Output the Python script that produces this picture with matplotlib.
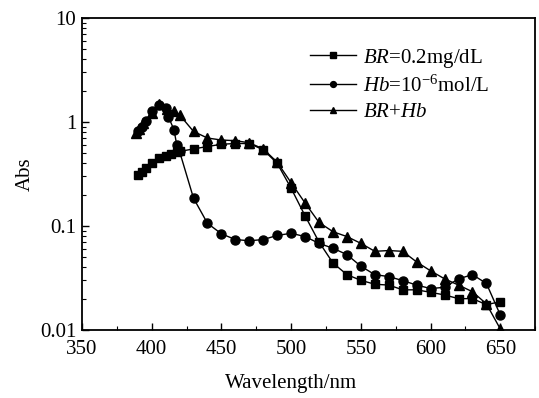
import matplotlib
matplotlib.use('Agg')
from matplotlib import pyplot as plt
from matplotlib.ticker import MultipleLocator, FixedLocator, FixedFormatter

plt.rcParams['font.family'] = 'Liberation Serif'
plt.rcParams['mathtext.fontset'] = 'custom'
plt.rcParams['mathtext.rm'] = 'Liberation Serif'
plt.rcParams['mathtext.it'] = 'Liberation Serif:italic'

# BR = 0.2 mg/dL (squares)
br_x = [390, 393, 396, 400, 405, 410, 414, 418, 420, 430, 440, 450, 460, 470,
        480, 490, 500, 510, 520, 530, 540, 550, 560, 570, 580, 590, 600, 610,
        620, 630, 640, 650]
br_y = [0.31, 0.33, 0.36, 0.40, 0.45, 0.47, 0.49, 0.51, 0.52, 0.55, 0.58,
        0.61, 0.62, 0.62, 0.54, 0.40, 0.23, 0.125, 0.07, 0.044, 0.034, 0.030,
        0.0275, 0.027, 0.0243, 0.0243, 0.023, 0.0217, 0.020, 0.020, 0.0175,
        0.0187]

# Hb = 1e-6 mol/L (circles)
hb_x = [390, 393, 396, 400, 405, 410, 412, 416, 418, 420, 430, 440, 450, 460,
        470, 480, 490, 500, 510, 520, 530, 540, 550, 560, 570, 580, 590, 600,
        610, 620, 630, 640, 650]
hb_y = [0.81, 0.90, 1.03, 1.26, 1.46, 1.36, 1.12, 0.84, 0.60, 0.52, 0.185,
        0.106, 0.084, 0.074, 0.072, 0.074, 0.081, 0.085, 0.079, 0.068, 0.061,
        0.053, 0.041, 0.034, 0.0326, 0.0298, 0.027, 0.025, 0.0257, 0.031,
        0.034, 0.028, 0.0139]

# BR + Hb (triangles)
mix_x = [389, 391, 394, 400, 405, 411, 416, 420, 430, 440, 450, 460, 470, 480,
         490, 500, 510, 520, 530, 540, 550, 560, 570, 580, 590, 600, 610, 620,
         630, 640, 650]
mix_y = [0.78, 0.85, 0.97, 1.21, 1.48, 1.32, 1.26, 1.17, 0.81, 0.70, 0.67,
         0.66, 0.63, 0.55, 0.41, 0.26, 0.166, 0.108, 0.088, 0.079, 0.068,
         0.057, 0.058, 0.057, 0.045, 0.037, 0.031, 0.027, 0.0233, 0.0178,
         0.0102]

x_ticks = [350, 400, 450, 500, 550, 600, 650]
y_ticks = [0.01, 0.1, 1, 10]
y_tick_labels = ['0.01', '0.1', '1', '10']

_FS = 15

fig = plt.figure(figsize=(5.39, 3.98), dpi=100)
ax = fig.add_axes([0.152, 0.171, 0.841, 0.784])

ax.plot(br_x, br_y, '-s', color='black', lw=1.0, ms=6,
        label=r'$\it{BR}$=0.2mg/dL')
ax.plot(hb_x, hb_y, '-o', color='black', lw=1.0, ms=6.5,
        label=r'$\it{Hb}$=10$^{-6}$mol/L')
ax.plot(mix_x, mix_y, '-^', color='black', lw=1.0, ms=7,
        label=r'$\it{BR}$+$\it{Hb}$')

ax.set_yscale('log')
ax.set_xlim(350, 675)
ax.set_ylim(0.01, 10)
ax.xaxis.set_major_locator(FixedLocator(x_ticks))
ax.xaxis.set_minor_locator(MultipleLocator(25))
ax.yaxis.set_major_locator(FixedLocator(y_ticks))
ax.yaxis.set_major_formatter(FixedFormatter(y_tick_labels))
ax.tick_params(which='both', direction='in', labelsize=_FS)
ax.tick_params(which='major', length=5, width=1)
ax.tick_params(which='minor', length=3, width=0.8)
ax.tick_params(axis='x', which='major', pad=7)
ax.tick_params(axis='y', which='major', pad=4)
for sp in ax.spines.values():
    sp.set_linewidth(1.3)

# label centred under the 350-650 span, like the original
ax.set_xlabel('Wavelength/nm', fontsize=_FS)
ax.xaxis.set_label_coords(150 / 325, -0.14)
ax.set_ylabel('Abs', fontsize=_FS, labelpad=4)

leg = ax.legend(loc='upper left', bbox_to_anchor=(0.503, 0.908),
                frameon=False, fontsize=_FS, handlelength=2.2,
                markerscale=0.65, labelspacing=0.28, handletextpad=0.35,
                borderpad=0, borderaxespad=0)

fig.savefig('out.png', dpi=100)
